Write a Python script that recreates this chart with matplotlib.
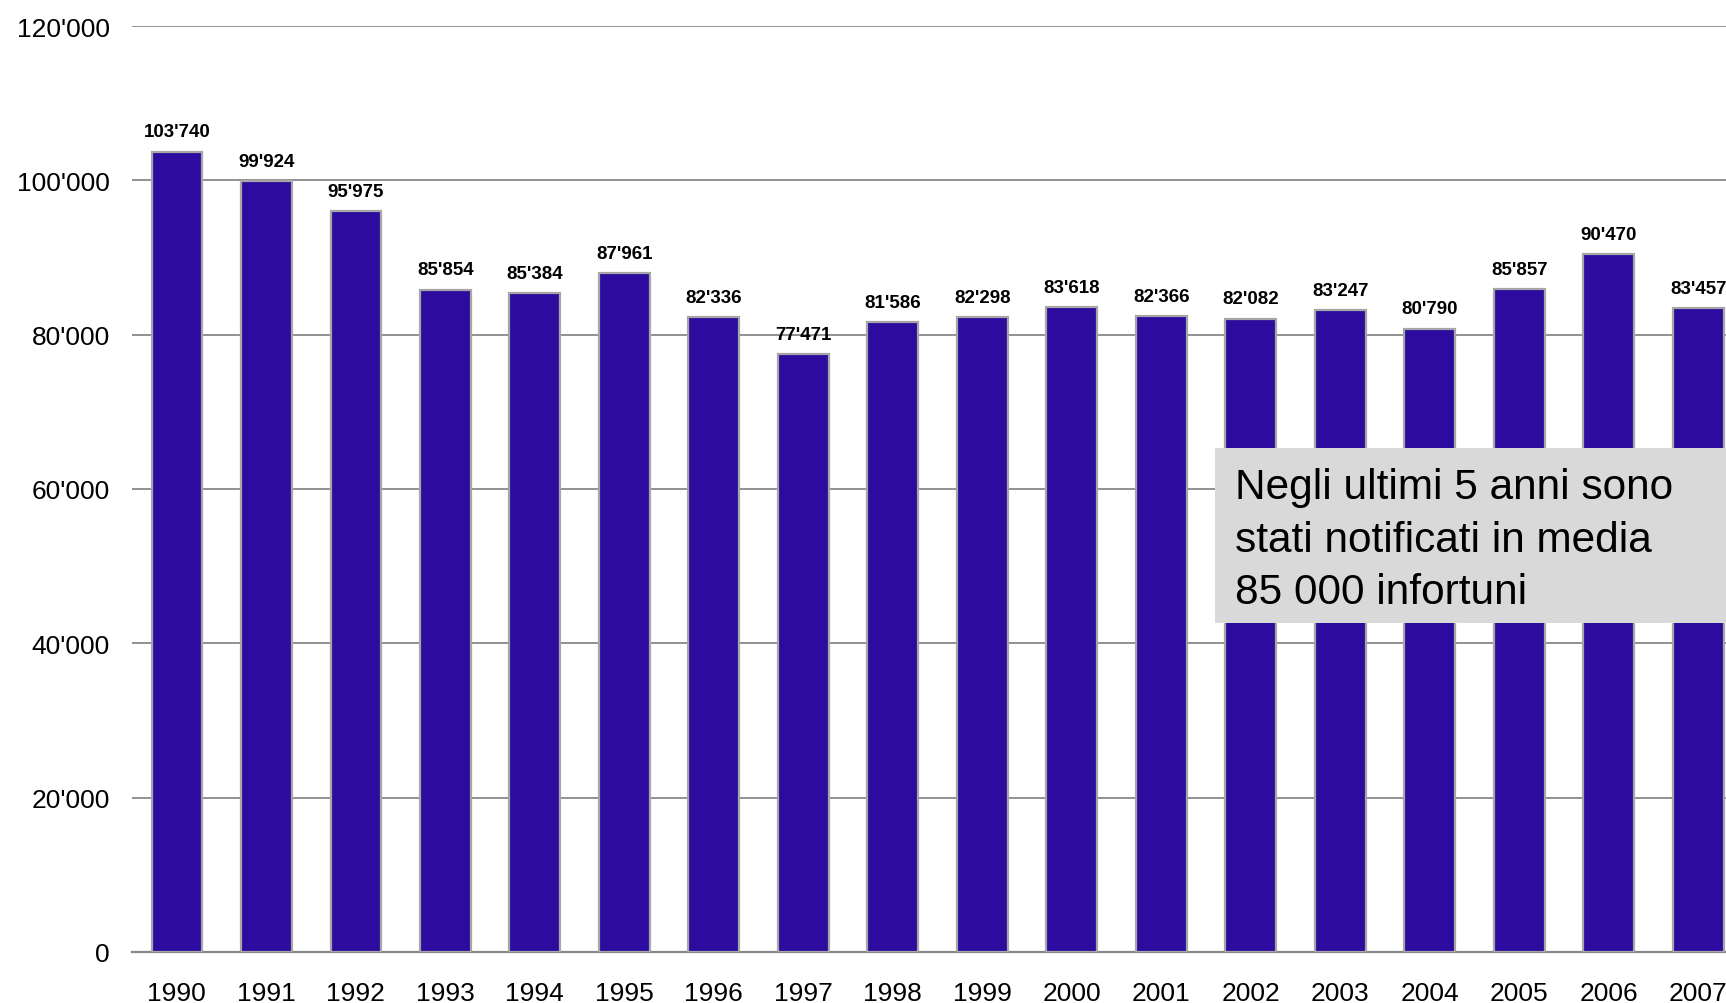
import matplotlib.pyplot as plt
from matplotlib.patches import Rectangle

plt.rcParams['font.family'] = ['Liberation Sans', 'DejaVu Sans']

# Infortuni notificati per anno
years = ['1990', '1991', '1992', '1993', '1994', '1995', '1996', '1997', '1998',
         '1999', '2000', '2001', '2002', '2003', '2004', '2005', '2006', '2007']
accidents = [103740, 99924, 95975, 85854, 85384, 87961, 82336, 77471, 81586,
             82298, 83618, 82366, 82082, 83247, 80790, 85857, 90470, 83457]
y_ticks = [0, 20000, 40000, 60000, 80000, 100000, 120000]
note = "Negli ultimi 5 anni sono\nstati notificati in media\n85 000 infortuni"


def swiss(v):
    return f"{v:,}".replace(",", "'")


fig = plt.figure(figsize=(17.26, 10.04), dpi=100)
ax = fig.add_axes([0.0765, 0.051, 0.9235, 0.922])

x = range(len(years))
bars = ax.bar(x, accidents, width=0.565, color='#2d0b9f',
              edgecolor='#a6a6a6', linewidth=1.6, zorder=3)

for xi, v in zip(x, accidents):
    ax.annotate(swiss(v), (xi, v), xytext=(0, 8), textcoords='offset points',
                ha='center', va='bottom', fontsize=13.5, fontweight='bold',
                annotation_clip=False)

ax.set_xlim(-0.5, 17.31)
ax.set_ylim(0, 120000)
ax.set_xticks(list(x))
ax.set_xticklabels(years)
ax.set_yticks(y_ticks)
ax.set_yticklabels([swiss(t) for t in y_ticks])
ax.tick_params(axis='both', length=0, labelsize=19)
ax.tick_params(axis='y', pad=16)
ax.tick_params(axis='x', pad=21)

ax.grid(axis='y', color='#888888', linewidth=1.3, zorder=0)
ax.set_axisbelow(True)
for s in ['top', 'right', 'left']:
    ax.spines[s].set_visible(False)
ax.spines['bottom'].set_color('#888888')
ax.spines['bottom'].set_linewidth(1.6)

# Riquadro con nota
fig.patches.append(Rectangle((0.704, 0.3785), 0.31, 0.1743,
                             transform=fig.transFigure, facecolor='#d9d9d9',
                             edgecolor='none', zorder=5))
fig.text(0.7155, 0.4615, note, fontsize=30.5, va='center', ha='left',
         linespacing=1.4, zorder=6)

fig.savefig('out.png', dpi=100)
